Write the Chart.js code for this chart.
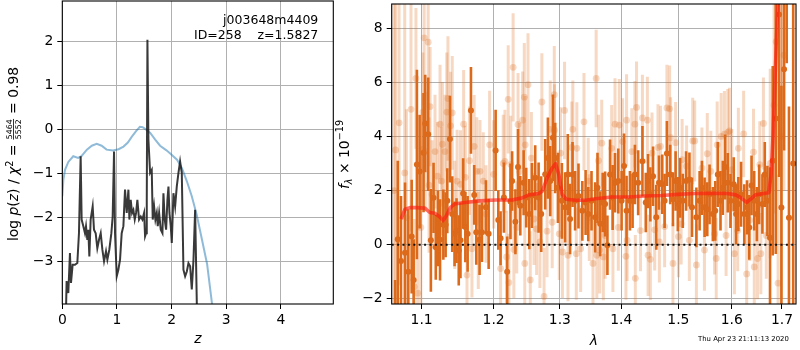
<!DOCTYPE html>
<html><head><meta charset="utf-8">
<script src="https://cdn.jsdelivr.net/npm/chart.js@4/dist/chart.umd.min.js"></script>
<style>
html,body{margin:0;padding:0;background:#fff;}
#wrap{position:relative;width:800px;height:350px;overflow:hidden;background:#fff;}
canvas{position:absolute;top:0;}
</style></head><body>
<div id="wrap">
<canvas id="left" width="340" height="350" style="left:0px"></canvas>
<canvas id="right" width="465" height="350" style="left:335px"></canvas>
</div>
<script>
// ---------------- data: left panel ----------------
const leftXTicks = [0, 1, 2, 3, 4];
const leftYTicks = [-3, -2, -1, 0, 1, 2];
const leftXRange = [0, 4.96];
const leftYRange = [-3.97, 2.92];

const priorZ = [0.0,0.02,0.05,0.11,0.2,0.29,0.35,0.45,0.54,0.63,0.72,0.81,0.93,1.03,1.12,1.2,1.27,1.35,1.42,1.47,1.53,1.61,1.7,1.79,1.9,1.97,2.1,2.19,2.28,2.37,2.46,2.55,2.65,2.74,2.8];
const priorLogP = [-1.52,-1.14,-0.92,-0.74,-0.61,-0.65,-0.61,-0.46,-0.37,-0.33,-0.37,-0.46,-0.48,-0.45,-0.39,-0.3,-0.17,-0.04,0.06,0.05,0.0,-0.08,-0.23,-0.37,-0.47,-0.54,-0.69,-0.88,-1.18,-1.52,-1.94,-2.47,-3.06,-3.96,-4.5];

const pzZ = [0.061,0.079,0.110,0.140,0.159,0.189,0.232,0.275,0.305,0.336,0.354,0.385,0.415,0.434,0.458,0.476,0.495,0.519,0.556,0.580,
0.611,0.641,0.672,0.703,0.733,0.764,0.800,0.825,0.861,0.898,0.922,0.947,0.965,0.996,1.026,1.057,1.087,1.118,1.148,1.179,
1.210,1.228,1.252,1.277,1.301,1.326,1.350,1.374,1.405,1.436,1.466,1.497,1.515,1.533,1.546,1.558,1.576,1.607,1.637,1.655,
1.680,1.704,1.729,1.747,1.772,1.802,1.833,1.851,1.875,1.900,1.924,1.943,1.961,1.985,2.004,2.034,2.065,2.095,2.126,2.156,
2.187,2.217,2.248,2.279,2.309,2.340,2.370,2.401,2.431,2.462,2.47];
const pzLogP = [-4.5,-3.45,-3.72,-2.81,-3.49,-3.08,-3.08,-3.04,-2.36,-0.61,-2.05,-2.20,-2.36,-2.20,-2.51,-2.28,-2.89,-2.05,-1.75,-2.28,
-2.36,-2.70,-2.51,-2.36,-2.73,-3.00,-2.77,-2.96,-2.73,-2.36,-1.98,-0.50,-2.36,-3.34,-3.19,-2.96,-2.36,-2.20,-1.37,-1.90,
-1.37,-2.05,-1.60,-1.90,-1.83,-2.05,-1.90,-1.60,-2.05,-1.98,-2.05,-1.90,-2.43,-2.36,-1.60,2.04,-0.23,-0.99,-0.92,-2.05,
-1.75,-2.05,-1.90,-2.20,-1.90,-2.28,-2.36,-1.45,-2.05,-2.28,-1.60,-1.30,-1.90,-2.20,-2.58,-1.45,-1.75,-1.30,-0.99,-0.73,
-0.99,-3.19,-3.34,-3.23,-3.04,-3.11,-3.64,-2.96,-1.83,-3.96,-5.0];

// ---------------- data: right panel ----------------
const rightXTicks = [1.1, 1.2, 1.3, 1.4, 1.5, 1.6, 1.7];
const rightYTicks = [-2, 0, 2, 4, 6, 8];
const lamRange = [1.061, 1.729];
const fluxRange = [-2.19, 8.89];

// darker spectrum points
const lamA = [1.0654,1.0688,1.0730,1.0782,1.0825,1.0869,1.0895,1.0938,1.0974,1.1026,
1.1048,1.1088,1.1124,1.1160,1.1190,1.1221,1.1248,1.1293,1.1324,1.1347,
1.1383,1.1415,1.1447,1.1474,1.1505,1.1529,1.1566,1.1597,1.1629,1.1676,
1.1722,1.1751,1.1798,1.1832,1.1889,1.1928,1.2029,1.2068,1.2101,1.2150,
1.2198,1.2247,1.2271,1.2320,1.2359,1.2393,1.2443,1.2482,1.2528,1.2568,
1.2618,1.2670,1.2710,1.2772,1.2813,1.2849,1.2891,1.2927,1.2969,1.3031,
1.3083,1.3125,1.3161,1.3200,1.3241,1.3295,1.3357,1.3410,1.3453,1.3506,
1.3566,1.3604,1.3648,1.3690,1.3730,1.3768,1.3812,1.3855,1.3895,1.3950,
1.4006,1.4047,1.4090,1.4148,1.4193,1.4233,1.4289,1.4363,1.4421,1.4461,
1.4501,1.4548,1.4605,1.4653,1.4711,1.4753,1.4794,1.4853,1.4902,1.4950,
1.4990,1.5032,1.5080,1.5140,1.5202,1.5249,1.5330,1.5390,1.5433,1.5483,
1.5533,1.5576,1.5638,1.5683,1.5732,1.5783,1.5827,1.5873,1.5922,1.5974,
1.6037,1.6083,1.6127,1.6180,1.6243,1.6296,1.6341,1.6386,1.6439,1.6492,
1.6537,1.6603,1.6650,1.6703,1.6756,1.6811,1.6873,1.6940,1.6988,1.7042,
1.7097,1.7144,1.7232];
const fluxA = [-3.3,0.2,-0.6,-0.3,-1.0,0.3,-1.3,2.96,2.7,3.4,
4.48,4.08,0.16,1.73,-0.09,0.6,0.18,0.74,0.74,1.62,
3.9,1.13,0.4,0.52,-0.21,0.16,1.89,0.65,0.4,4.96,
1.84,0.46,0.18,0.46,1.38,0.4,3.48,0.91,0.24,1.74,
-1.0,1.6,2.35,0.85,2.87,1.44,2.29,1.74,1.13,1.82,
2.47,1.74,1.13,2.6,3.2,2.35,3.95,3.2,2.1,1.62,
1.38,2.59,0.95,2.59,1.62,1.8,1.25,1.56,1.13,1.62,
1.01,2.1,0.77,1.56,1.5,-0.02,2.59,1.74,2.29,2.35,
1.62,2.91,1.25,1.62,1.62,2.59,2.29,3.08,1.56,2.35,
1.86,2.53,1.01,2.29,2.23,1.62,3.37,2.59,1.68,2.35,
1.5,2.1,1.62,2.35,2.41,1.38,1.01,1.62,2.1,1.38,
1.31,1.86,1.13,1.25,2.59,1.62,2.1,2.87,2.29,1.62,
2.23,1.13,1.5,1.86,1.13,1.38,0.64,2.19,1.62,1.13,
1.86,1.5,2.59,1.62,0.26,3.1,4.66,8.5,1.37,6.48,
9.0,1.0,3.0];
const errA = [2.0,2.9,2.4,2.6,2.3,2.1,1.5,3.5,2.1,2.2,
1.8,2.1,1.9,1.3,1.2,1.4,1.5,1.3,1.2,1.2,
1.6,1.4,1.2,1.2,1.3,1.4,1.3,1.3,1.4,1.6,
1.1,1.2,1.3,1.1,1.0,1.3,1.5,1.1,1.0,1.3,
1.3,1.4,1.1,1.2,1.4,1.1,1.2,1.1,1.3,1.2,
1.2,1.3,1.4,1.3,1.5,1.3,1.6,1.3,1.3,1.4,
1.3,1.5,1.3,1.2,1.1,1.2,1.1,1.2,1.0,1.1,
1.3,1.3,1.2,1.1,1.2,1.1,1.3,1.2,1.1,1.2,
1.1,1.2,1.3,1.1,1.0,1.1,1.2,1.3,1.1,1.0,
1.0,1.1,1.2,1.0,1.1,1.0,1.2,1.1,1.0,1.1,
1.0,1.1,1.0,1.1,1.0,1.1,1.1,1.1,1.0,1.1,
1.0,1.1,1.0,1.1,1.2,1.1,1.0,1.2,1.1,1.0,
1.0,1.1,1.0,1.2,1.1,1.0,1.2,1.1,1.1,1.0,
1.1,1.1,1.2,1.3,2.6,3.5,5.0,6.0,4.5,3.0,
2.3,4.1,7.0];

// lighter spectrum points
const lamB = [1.0640,1.0660,1.0705,1.0778,1.0800,1.0860,1.0903,1.0925,1.0948,1.0990,
1.1017,1.1034,1.1050,1.1088,1.1100,1.1114,1.1140,1.1180,1.1212,1.1248,
1.1267,1.1280,1.1315,1.1340,1.1356,1.1392,1.1415,1.1450,1.1482,1.1529,
1.1573,1.1597,1.1620,1.1655,1.1690,1.1721,1.1758,1.1780,1.1804,1.1851,
1.1890,1.1942,1.2000,1.2101,1.2140,1.2165,1.2190,1.2213,1.2223,1.2250,
1.2286,1.2297,1.2340,1.2359,1.2380,1.2428,1.2453,1.2460,1.2467,1.2509,
1.2543,1.2560,1.2600,1.2640,1.2690,1.2720,1.2754,1.2800,1.2849,1.2880,
1.2912,1.2915,1.2990,1.3010,1.3040,1.3073,1.3128,1.3189,1.3205,1.3260,
1.3269,1.3330,1.3384,1.3453,1.3470,1.3530,1.3582,1.3593,1.3620,1.3640,
1.3674,1.3700,1.3730,1.3839,1.3860,1.3895,1.3950,1.3967,1.4023,1.4079,
1.4090,1.4100,1.4180,1.4233,1.4240,1.4261,1.4329,1.4363,1.4449,1.4461,
1.4501,1.4530,1.4577,1.4635,1.4660,1.4680,1.4753,1.4794,1.4842,1.4860,
1.4902,1.4950,1.5000,1.5050,1.5068,1.5150,1.5200,1.5262,1.5299,1.5330,
1.5433,1.5480,1.5533,1.5600,1.5670,1.5702,1.5720,1.5796,1.5858,1.5890,
1.5922,1.5954,1.6000,1.6050,1.6114,1.6127,1.6230,1.6290,1.6350,1.6425,
1.6440,1.6504,1.6550,1.6571,1.6623,1.6680,1.6760,1.6838,1.6880,1.6920,
1.6990,1.7040];
const fluxB = [2.0,3.5,4.5,2.65,1.0,5.0,-1.55,6.14,-1.79,0.64,
4.9,7.64,3.44,7.48,2.2,5.1,1.86,3.44,2.53,4.45,
2.35,3.71,3.44,4.9,5.4,4.39,4.87,1.1,2.35,2.23,
4.45,2.49,-1.12,3.1,-0.15,3.63,2.71,0.16,2.71,2.35,
1.13,3.69,2.6,-0.88,3.0,3.08,-0.45,5.37,-1.4,2.96,
6.55,-0.18,0.64,4.44,2.7,4.6,5.45,-0.69,3.69,5.91,
-1.3,3.2,0.95,0.58,0.1,5.27,-1.91,0.5,4.26,0.83,
5.54,4.23,0.4,3.38,-0.27,4.96,-0.39,3.59,4.26,-0.33,
3.56,-0.15,4.54,2.35,1.0,-0.69,6.14,-0.39,3.1,-0.2,
3.75,-0.45,0.34,3.56,-0.15,4.45,0.64,4.42,3.81,-0.43,
4.6,0.16,3.44,4.45,-1.24,5.07,0.52,4.68,4.6,-0.39,
-0.54,3.38,0.55,3.59,0.1,3.63,0.67,5.05,5.02,3.95,
-0.69,3.77,0.3,0.77,3.14,2.9,0.16,3.83,3.83,-0.75,
2.83,-0.2,3.36,2.71,0.4,-0.51,3.69,4.0,4.08,0.34,
4.15,4.2,2.77,-0.33,0.52,3.56,4.09,-1.08,0.9,3.42,
-0.82,-0.51,2.96,-0.33,4.48,0.34,3.0,5.15,7.5,-1.42,
4.0,7.0];
const errB = [7.0,6.0,6.0,6.5,4.0,4.5,2.5,2.6,2.5,3.0,
2.2,2.5,2.2,2.5,2.5,2.2,2.0,2.1,2.0,2.2,
2.0,2.3,2.1,2.2,2.3,2.0,2.1,2.0,1.9,2.0,
2.0,1.9,2.0,2.0,1.8,1.9,2.0,1.8,1.9,1.8,
1.8,2.0,2.0,1.8,1.8,1.9,1.7,2.0,1.8,1.8,
2.0,1.8,1.7,1.9,1.8,1.8,2.0,1.8,1.8,1.9,
1.8,1.7,1.7,1.7,1.7,1.8,1.8,1.7,1.8,1.7,
1.8,1.7,1.7,1.7,1.7,1.8,1.7,1.7,1.8,1.7,
1.7,1.6,1.8,1.6,1.6,1.6,1.8,1.6,1.7,1.6,
1.6,1.6,1.6,1.6,1.6,1.7,1.6,1.7,1.6,1.6,
1.7,1.5,1.6,1.6,1.6,1.7,1.5,1.6,1.6,1.5,
1.5,1.5,1.5,1.6,1.5,1.5,1.5,1.6,1.6,1.5,
1.5,1.5,1.5,1.5,1.5,1.5,1.5,1.6,1.5,1.5,
1.5,1.5,1.5,1.5,1.5,1.5,1.6,1.6,1.6,1.5,
1.6,1.6,1.5,1.5,1.5,1.5,1.6,1.5,1.5,1.6,
1.5,1.5,1.6,1.5,1.7,1.6,3.5,4.0,4.0,4.0,
6.0,5.0];

// model spectrum
const modelLam = [1.0730,1.0782,1.0847,1.0934,1.1044,1.1110,1.1176,1.1244,1.1288,1.1334,1.1388,1.1447,1.1561,1.1796,1.2032,1.2264,1.2411,1.2524,1.2675,1.2726,1.2802,1.2879,1.2931,1.2983,1.3035,1.3099,1.3249,1.3410,1.3571,1.3840,1.4119,1.4403,1.4693,1.4990,1.5293,1.5601,1.5916,1.6076,1.6172,1.6290,1.6368,1.6465,1.6631,1.6731,1.6777,1.6818,1.6852,1.6899,1.6940];
const modelFlux = [0.95,1.31,1.37,1.37,1.35,1.19,1.16,1.03,0.89,1.07,1.37,1.5,1.55,1.62,1.65,1.65,1.72,1.84,1.89,1.98,2.47,2.83,2.99,2.59,1.86,1.68,1.64,1.64,1.7,1.76,1.76,1.8,1.82,1.86,1.89,1.9,1.89,1.84,1.74,1.56,1.68,1.84,1.89,1.92,2.59,4.05,5.88,8.19,9.6];

// ---------------- helpers ----------------
const FF = "'DejaVu Sans', sans-serif";
const FS = 13.9;
Chart.defaults.font.family = FF;
Chart.defaults.font.size = FS;
Chart.defaults.color = '#000';

function minusFmt(v) { return (v < 0 ? '\u2212' : '') + Math.abs(v); }
function pts(xs, ys) { return xs.map((x, i) => ({x: x, y: ys[i]})); }
function fixTicks(list) { return function(scale) { scale.ticks = list.map(v => ({value: v})); }; }
function fitY(w) { return function(s) { s.width = w; s.paddingTop = 0; s.paddingBottom = 0; s.paddingLeft = 0; s.paddingRight = 0; }; }
function fitX(h) { return function(s) { s.height = h; s.paddingTop = 0; s.paddingBottom = 0; s.paddingLeft = 0; s.paddingRight = 0; }; }

const gridOpts = {color: '#b0b0b0', lineWidth: 1, tickColor: '#000', tickLength: 5, tickWidth: 1};

function drawRich(ctx, parts, cx, cy, angle) {
  ctx.save();
  let total = 0;
  parts.forEach(p => {
    ctx.font = p.f;
    if (p.frac) {
      p.w = Math.max(ctx.measureText(p.num).width, ctx.measureText(p.den).width) + 2;
    } else {
      p.w = ctx.measureText(p.t).width;
    }
    total += p.w;
  });
  ctx.translate(cx, cy);
  ctx.rotate(angle);
  ctx.fillStyle = '#000';
  ctx.textBaseline = 'alphabetic';
  let x = -total / 2;
  parts.forEach(p => {
    ctx.font = p.f;
    if (p.frac) {
      ctx.fillRect(x + 0.6, -p.axis - 0.4, p.w - 1.2, 0.8);
      ctx.textAlign = 'center';
      ctx.fillText(p.num, x + p.w / 2, -p.axis - 1.6);
      ctx.fillText(p.den, x + p.w / 2, -p.axis + 1.6 + p.capH);
      ctx.textAlign = 'left';
    } else {
      ctx.textAlign = 'left';
      ctx.fillText(p.t, x, p.dy || 0);
    }
    x += p.w;
  });
  ctx.restore();
}

function frame(chart) {
  const a = chart.chartArea, ctx = chart.ctx;
  ctx.save();
  ctx.strokeStyle = '#000';
  ctx.lineWidth = 1.1;
  ctx.strokeRect(a.left, a.top, a.right - a.left, a.bottom - a.top);
  ctx.restore();
}

const errorBars = {
  id: 'errorBars',
  beforeDatasetDraw(chart, args) {
    const ds = chart.data.datasets[args.index];
    if (!ds.errors) return;
    const ctx = chart.ctx, a = chart.chartArea, xs = chart.scales.x, ys = chart.scales.y;
    ctx.save();
    ctx.beginPath();
    ctx.rect(a.left, a.top, a.right - a.left, a.bottom - a.top);
    ctx.clip();
    ctx.strokeStyle = ds.errColor;
    ctx.lineWidth = ds.errWidth;
    ds.data.forEach((p, i) => {
      const e = ds.errors[i];
      const px = xs.getPixelForValue(p.x);
      ctx.beginPath();
      ctx.moveTo(px, ys.getPixelForValue(p.y - e));
      ctx.lineTo(px, ys.getPixelForValue(p.y + e));
      ctx.stroke();
    });
    ctx.restore();
  }
};

const M = FS + 'px ' + FF, MI = 'italic ' + FS + 'px ' + FF;
const S = '9.7px ' + FF, SI = 'italic 9.7px ' + FF;

const leftDecor = {
  id: 'leftDecor',
  afterDraw(chart) {
    const ctx = chart.ctx, a = chart.chartArea;
    frame(chart);
    ctx.save();
    ctx.fillStyle = '#000';
    ctx.font = '12.5px ' + FF;
    ctx.textAlign = 'right';
    ctx.textBaseline = 'alphabetic';
    ctx.fillText('j003648m4409', 318.3, 24);
    ctx.fillText('ID=258    z=1.5827', 318.3, 39);
    ctx.restore();
    drawRich(ctx, [
      {t: 'log', f: M}, {t: ' ', f: M}, {t: 'p', f: MI}, {t: '(', f: M}, {t: 'z', f: MI}, {t: ')', f: M},
      {t: ' / ', f: M}, {t: '\u03c7', f: MI}, {t: '2', f: S, dy: -5.5}, {t: ' = ', f: M},
      {frac: true, num: '5464', den: '5552', f: '7.8px ' + FF, axis: 4.6, capH: 5.7},
      {t: ' = 0.98', f: M}
    ], 18, 154, -Math.PI / 2);
    drawRich(ctx, [{t: 'z', f: MI}], (a.left + a.right) / 2, 343.2, 0);
  }
};

const rightDecor = {
  id: 'rightDecor',
  afterDraw(chart) {
    const ctx = chart.ctx, a = chart.chartArea;
    frame(chart);
    drawRich(ctx, [
      {t: 'f', f: MI}, {t: '\u03bb', f: SI, dy: 3}, {t: ' \u00d7 10', f: M}, {t: '\u221219', f: S, dy: -6}
    ], 349 - 335, 154.5, -Math.PI / 2);
    drawRich(ctx, [{t: '\u03bb', f: MI}], (a.left + a.right) / 2, 345.3, 0);
    ctx.save();
    ctx.fillStyle = '#000';
    ctx.font = '6.9px ' + FF;
    ctx.textAlign = 'left';
    ctx.textBaseline = 'middle';
    ctx.fillText('Thu Apr 23 21:11:13 2020', 698 - 335, 339.5);
    ctx.restore();
  }
};

// ---------------- left chart ----------------
new Chart(document.getElementById('left'), {
  type: 'line',
  data: {
    datasets: [
      {data: pts(pzZ, pzLogP), borderColor: 'rgba(30,30,30,0.88)', borderWidth: 2, pointRadius: 0, tension: 0, order: 1},
      {data: pts(priorZ, priorLogP), borderColor: 'rgba(31,119,180,0.5)', borderWidth: 2, pointRadius: 0, tension: 0, order: 2}
    ]
  },
  options: {
    responsive: false, animation: false, devicePixelRatio: 1,
    layout: {padding: {left: 0, right: 6.7, top: 1, bottom: 0}},
    plugins: {legend: {display: false}, tooltip: {enabled: false}},
    scales: {
      x: {
        type: 'linear', min: leftXRange[0], max: leftXRange[1],
        afterBuildTicks: fixTicks(leftXTicks),
        afterFit: fitX(46),
        ticks: {autoSkip: false, maxRotation: 0, padding: 3.5, callback: v => minusFmt(v), color: '#000'},
        grid: gridOpts, border: {display: false}
      },
      y: {
        type: 'linear', min: leftYRange[0], max: leftYRange[1],
        afterBuildTicks: fixTicks(leftYTicks),
        afterFit: fitY(62.3),
        ticks: {autoSkip: false, padding: 4, callback: v => minusFmt(v), color: '#000'},
        grid: gridOpts, border: {display: false}
      }
    }
  },
  plugins: [leftDecor]
});

// ---------------- right chart ----------------
new Chart(document.getElementById('right'), {
  type: 'scatter',
  data: {
    datasets: [
      {type: 'scatter', data: pts(lamB, fluxB), errors: errB, errColor: 'rgba(222,110,35,0.27)', errWidth: 3,
       pointRadius: 3.4, pointBackgroundColor: 'rgba(222,110,35,0.27)', pointBorderWidth: 0, order: 4},
      {type: 'scatter', data: pts(lamA, fluxA), errors: errA, errColor: 'rgb(220,106,26)', errWidth: 2.6,
       pointRadius: 3, pointBackgroundColor: 'rgb(220,106,26)', pointBorderWidth: 0, order: 3},
      {type: 'line', data: pts(modelLam, modelFlux), borderColor: 'rgba(255,25,15,0.62)', borderWidth: 3.6,
       pointRadius: 0, tension: 0, borderJoinStyle: 'round', order: 2},
      {type: 'line', data: pts(lamRange, [0, 0]), borderColor: '#111', borderWidth: 1.9, borderDash: [2, 3.4],
       pointRadius: 0, tension: 0, order: 1}
    ]
  },
  options: {
    responsive: false, animation: false, devicePixelRatio: 1,
    layout: {padding: {left: 0, right: 0.7, top: 1, bottom: 0}},
    plugins: {legend: {display: false}, tooltip: {enabled: false}},
    scales: {
      x: {
        type: 'logarithmic', min: lamRange[0], max: lamRange[1],
        afterBuildTicks: fixTicks(rightXTicks),
        afterFit: fitX(46),
        ticks: {autoSkip: false, maxRotation: 0, padding: 3.5, callback: v => Number(v).toFixed(1), color: '#000'},
        grid: gridOpts, border: {display: false}
      },
      y: {
        type: 'linear', min: fluxRange[0], max: fluxRange[1],
        afterBuildTicks: fixTicks(rightYTicks),
        afterFit: fitY(56.7),
        ticks: {autoSkip: false, padding: 4, callback: v => minusFmt(v), color: '#000'},
        grid: gridOpts, border: {display: false}
      }
    }
  },
  plugins: [errorBars, rightDecor]
});
</script>
</body></html>
